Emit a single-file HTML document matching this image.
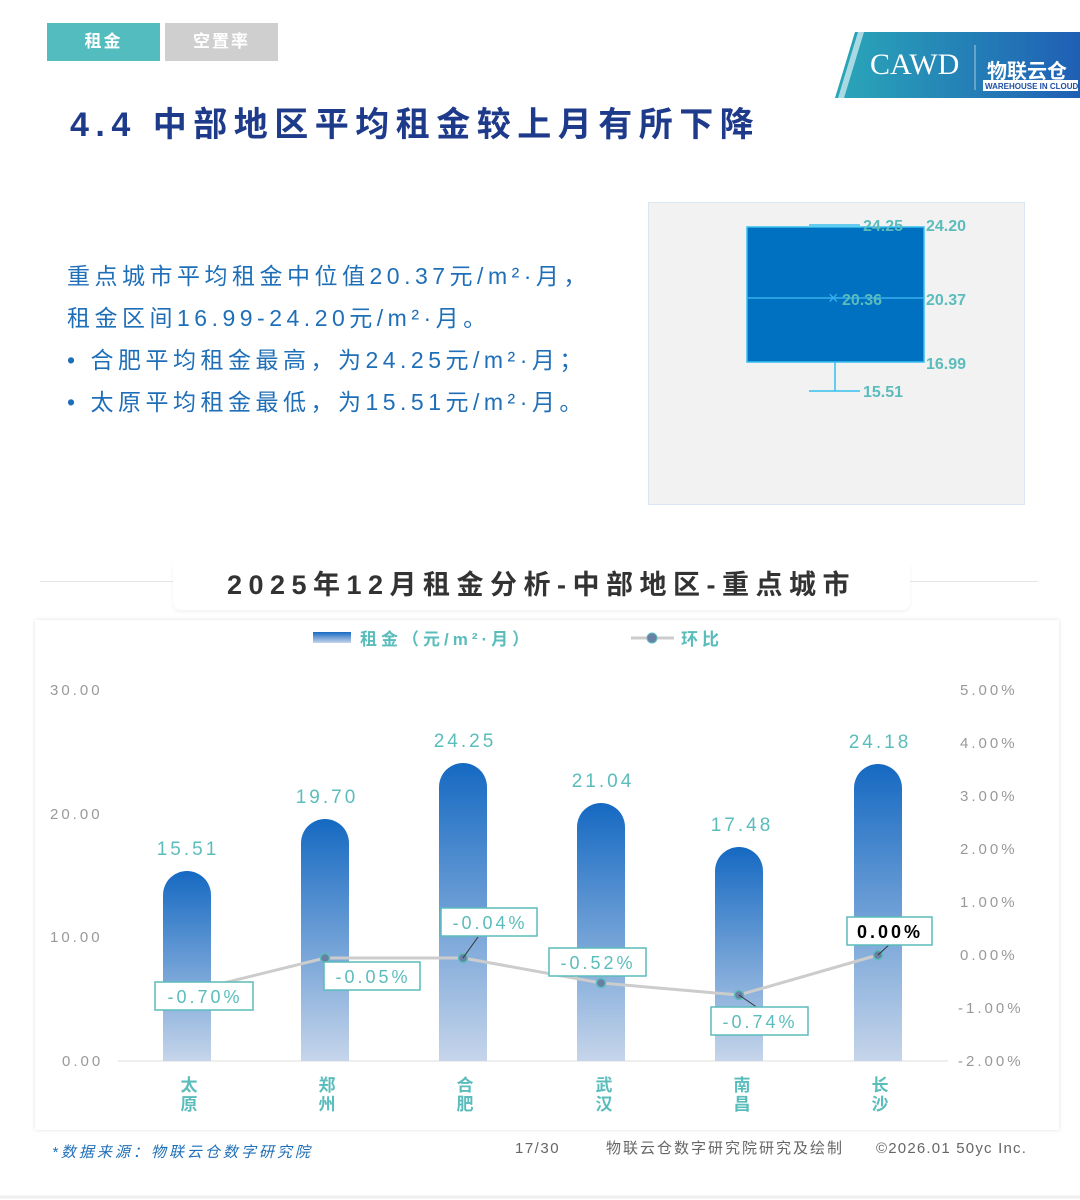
<!DOCTYPE html>
<html><head><meta charset="utf-8"><style>
body{margin:0;width:1080px;height:1200px;background:#fff;overflow:hidden;font-family:"Liberation Sans","Noto Sans CJK SC",sans-serif;position:relative}
.a{position:absolute}
</style></head><body>
<div class="a" style="left:47px;top:23px;width:113px;height:38px;background:#52bcbf;color:#fff;font-size:17px;font-weight:bold;text-align:center;line-height:38px;letter-spacing:2px">租金</div>
<div class="a" style="left:165px;top:23px;width:113px;height:38px;background:#cfcfcf;color:#fff;font-size:17px;font-weight:bold;text-align:center;line-height:38px;letter-spacing:2px">空置率</div>
<svg class="a" style="left:830px;top:30px" width="250" height="70">
<defs><linearGradient id="lg" x1="0" x2="1"><stop offset="0" stop-color="#2aa7b8"/><stop offset="1" stop-color="#1f5fb5"/></linearGradient></defs>
<polygon points="25,2 250,2 250,68 5,68" fill="url(#lg)"/>
<polygon points="28,2 34,2 14,68 8,68" fill="#fff" opacity=".6"/>
<text x="40" y="44" font-family="Liberation Serif" font-size="30" fill="#fff">CAWD</text>
<line x1="145" y1="15" x2="145" y2="60" stroke="#fff" stroke-width="1" opacity=".6"/>
<text x="157" y="48" font-size="20" font-weight="bold" fill="#fff">物联云仓</text>
<rect x="153" y="50" width="95" height="11" fill="#fff"/>
<text x="155" y="59" font-size="8" font-weight="bold" fill="#1f4fa5">WAREHOUSE IN CLOUD</text>
</svg>
<div class="a" style="left:70px;top:97px;font-size:34px;font-weight:bold;color:#1e3a8a;letter-spacing:6.5px;white-space:nowrap">4.4 中部地区平均租金较上月有所下降</div>
<div class="a" style="left:67px;top:255px;font-size:23px;color:#1f6fb8;line-height:42px;letter-spacing:4.5px;white-space:nowrap">
重点城市平均租金中位值20.37元/m²·月，<br>租金区间16.99-24.20元/m²·月。<br>•&nbsp;合肥平均租金最高，为24.25元/m²·月；<br>•&nbsp;太原平均租金最低，为15.51元/m²·月。</div>
<svg class="a" style="left:648px;top:202px" width="377" height="303">
<rect x="0.5" y="0.5" width="376" height="302" fill="#f2f2f2" stroke="#dbe6f5"/>
<rect x="99" y="25" width="177" height="135" fill="#0070c0" stroke="#35c0ee" stroke-width="1.5"/>
<line x1="99" y1="96" x2="276" y2="96" stroke="#35b0ee" stroke-width="1.5"/>
<line x1="161" y1="23" x2="212" y2="23" stroke="#35c0ee" stroke-width="1.5"/>
<line x1="187" y1="160" x2="187" y2="189" stroke="#35c0ee" stroke-width="1.5"/>
<line x1="161" y1="189" x2="212" y2="189" stroke="#35c0ee" stroke-width="1.5"/>
<text x="180" y="102" font-size="18" fill="#35b0ee">×</text>
<g font-size="16" font-weight="bold" fill="#5bbcbc">
<text x="215" y="29">24.25</text><text x="278" y="29">24.20</text>
<text x="194" y="103">20.36</text><text x="278" y="103">20.37</text>
<text x="278" y="167">16.99</text><text x="215" y="195">15.51</text></g>
</svg>
<div class="a" style="left:40px;top:581px;width:998px;height:1px;background:#e6e6e6"></div>
<div class="a" style="left:173px;top:560px;width:737px;height:50px;background:#fff;border-radius:8px;box-shadow:0 2px 4px rgba(0,0,0,.05);text-align:center;font-size:27px;font-weight:bold;color:#333;line-height:50px;letter-spacing:6.5px;white-space:nowrap">2025年12月租金分析-中部地区-重点城市</div>
<div class="a" style="left:35px;top:620px;width:1024px;height:510px;background:#fff;box-shadow:0 0 4px rgba(0,0,0,.12)"></div>
<svg class="a" style="left:0;top:0" width="1080" height="1200">
<defs><linearGradient id="bg" x1="0" y1="0" x2="0" y2="1"><stop offset="0" stop-color="#1569c2"/><stop offset="1" stop-color="#c6d5ea"/></linearGradient>
<linearGradient id="lgd" x1="0" y1="0" x2="0" y2="1"><stop offset="0" stop-color="#1569c2"/><stop offset="1" stop-color="#c6d5ea"/></linearGradient></defs>
<rect x="313" y="632" width="38" height="11" fill="url(#lgd)"/>
<g font-size="17" font-weight="bold" fill="#5bbcbc" letter-spacing="4"><text x="360" y="645">租金（元/m²·月）</text><text x="681" y="645">环比</text></g>
<line x1="631" y1="638" x2="674" y2="638" stroke="#ccc" stroke-width="3"/><circle cx="652" cy="638" r="5" fill="#6a7fa5" stroke="#5bbcbc"/>
<line x1="118" y1="1061" x2="948" y2="1061" stroke="#ddd"/>
<g font-size="15" fill="#999" letter-spacing="3"><text x="50" y="695">30.00</text><text x="50" y="819">20.00</text><text x="50" y="942">10.00</text><text x="62" y="1066">0.00</text>
<text x="960" y="695">5.00%</text><text x="960" y="748">4.00%</text><text x="960" y="801">3.00%</text><text x="960" y="854">2.00%</text><text x="960" y="907">1.00%</text><text x="960" y="960">0.00%</text><text x="958" y="1013">-1.00%</text><text x="958" y="1066">-2.00%</text></g>
<g fill="url(#bg)">
<path d="M163,1061V895a24,24 0 0 1 48,0V1061Z"/>
<path d="M301,1061V843a24,24 0 0 1 48,0V1061Z"/>
<path d="M439,1061V787a24,24 0 0 1 48,0V1061Z"/>
<path d="M577,1061V827a24,24 0 0 1 48,0V1061Z"/>
<path d="M715,1061V871a24,24 0 0 1 48,0V1061Z"/>
<path d="M854,1061V788a24,24 0 0 1 48,0V1061Z"/></g>
<g font-size="19" fill="#5bbcbc" text-anchor="middle" letter-spacing="3"><text x="188" y="855">15.51</text><text x="327" y="803">19.70</text><text x="465" y="747">24.25</text><text x="603" y="787">21.04</text><text x="742" y="831">17.48</text><text x="880" y="748">24.18</text></g>
<polyline points="187,992 325,958 463,958 601,983 739,995 878,955" fill="none" stroke="#ccc" stroke-width="3"/>
<g fill="#6a7fa5" stroke="#5bbcbc" stroke-width="1.5"><circle cx="325" cy="958" r="4.5"/><circle cx="463" cy="958" r="4.5"/><circle cx="601" cy="983" r="4.5"/><circle cx="739" cy="995" r="4.5"/><circle cx="878" cy="955" r="4.5"/></g>
<g stroke="#333"><line x1="463" y1="958" x2="478" y2="937"/><line x1="739" y1="995" x2="758" y2="1008"/><line x1="878" y1="955" x2="890" y2="944"/></g>
<g fill="#fff" stroke="#5bbcbc" stroke-width="1.5">
<rect x="155" y="982" width="98" height="28"/><rect x="324" y="962" width="96" height="28"/><rect x="441" y="908" width="96" height="28"/><rect x="549" y="948" width="97" height="28"/><rect x="711" y="1007" width="97" height="28"/><rect x="847" y="917" width="85" height="28"/></g>
<g font-size="18" fill="#5bbcbc" text-anchor="middle" letter-spacing="3"><text x="205" y="1003">-0.70%</text><text x="373" y="983">-0.05%</text><text x="490" y="929">-0.04%</text><text x="598" y="969">-0.52%</text><text x="760" y="1028">-0.74%</text><text x="890" y="938" fill="#000" font-weight="bold">0.00%</text></g>
<g font-size="17" font-weight="bold" fill="#5bbcbc" text-anchor="middle"><text x="189" y="1091">太</text><text x="189" y="1110">原</text><text x="327" y="1091">郑</text><text x="327" y="1110">州</text><text x="465" y="1091">合</text><text x="465" y="1110">肥</text><text x="604" y="1091">武</text><text x="604" y="1110">汉</text><text x="742" y="1091">南</text><text x="742" y="1110">昌</text><text x="880" y="1091">长</text><text x="880" y="1110">沙</text></g>
<text x="52" y="1157" font-size="15" font-style="italic" fill="#1f6fb8" letter-spacing="3">*数据来源：物联云仓数字研究院</text>
<g font-size="15" fill="#666"><text x="515" y="1153" letter-spacing="1.5">17/30</text><text x="606" y="1153" letter-spacing="2">物联云仓数字研究院研究及绘制</text><text x="876" y="1153" letter-spacing="1.2">©2026.01 50yc Inc.</text></g>
<line x1="0" y1="1197" x2="1080" y2="1197" stroke="#eee" stroke-width="3"/>
</svg>
</body></html>
